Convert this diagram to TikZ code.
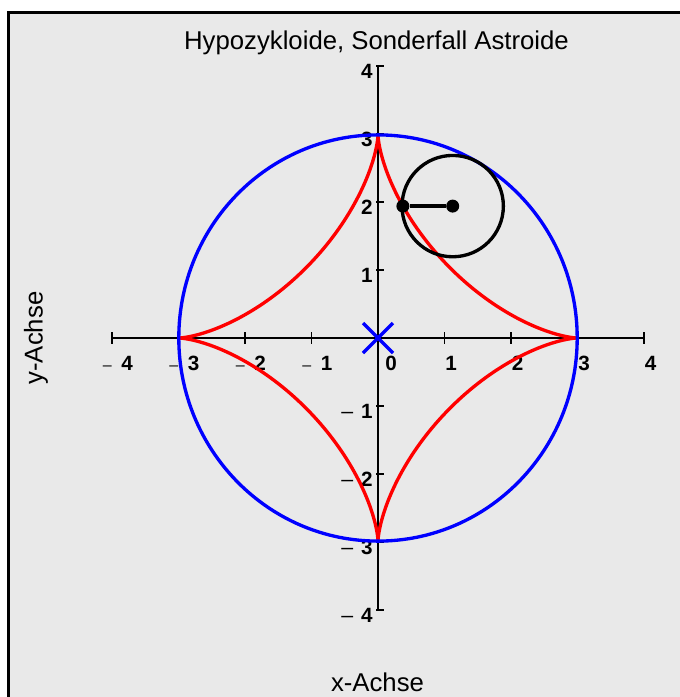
\documentclass[tikz,border=0pt]{standalone}
\usepackage{fontspec}
\usetikzlibrary{shapes.geometric}
\setmainfont{Liberation Sans}
\definecolor{panel}{RGB}{233,233,233}
\begin{document}
\begin{tikzpicture}[x=0.75pt,y=-0.75pt,
  axisline/.style={line width=1.5pt,black},
  tickline/.style={line width=1.3pt,black},
  ticklbl/.style={font=\fontsize{15.5}{17}\selectfont\bfseries,inner sep=0pt},
  captxt/.style={font=\fontsize{19.3}{21}\selectfont,inner sep=0pt},
  curve/.style={line width=2.5pt},
  dotnode/.style={circle,fill=black,inner sep=0pt,minimum size=9.75pt}]
\useasboundingbox (0,0) rectangle (680,697);
\fill[white] (0,0) rectangle (680,697);
\fill[panel] (8.7,12) rectangle (681,698);
\draw[line width=2.25pt] (8.7,698) -- (8.7,12) -- (681,12);
% titles
\node[captxt,anchor=base] (title) at (376.5,49) {Hypozykloide, Sonderfall Astroide};
\node[captxt,anchor=base] (xlab) at (377.5,691) {x-Achse};
\node[captxt,rotate=90] (ylab) at (36,338) {y-Achse};
% axes
\coordinate (xa) at (112,338); \coordinate (xb) at (644,338);
\coordinate (ya) at (378,66); \coordinate (yb) at (378,610);
\draw[axisline] (xa) -- (xb);
\draw[axisline] (ya) -- (yb);
\foreach \k in {-4,-3,-2,-1,1,2,3,4}{
  \draw[tickline] ({378+66.5*\k},332) -- ({378+66.5*\k},344);
  \draw[tickline] (376,{338-68*\k}) -- (384,{338-68*\k});
}
% tick labels
\foreach \k in {1,2,3,4}{
  \node[ticklbl,anchor=base west] (xl\k) at ({378+66.5*\k+0.5},370) {\k};
  \node[ticklbl,anchor=base west] (xm\k) at ({378-66.5*\k-9.5},370) {{\mdseries\fontsize{12}{13}\selectfont –}\hspace{7.2pt}\k};
  \node[ticklbl,anchor=base east] (yl\k) at (373,{338-68*\k+12}) {\k};
  \node[ticklbl,anchor=base east] (ym\k) at (373,{338+68*\k+12}) {{\mdseries\fontsize{16}{17}\selectfont –}\hspace{6pt}\k};
}
\node[ticklbl,anchor=base west] (x0) at (385,370) {0};
% astroid
\draw[red,curve,line join=miter,miter limit=50] plot[domain=0:360,samples=721,variable=\t]
  ({378+199.2*cos(\t)*cos(\t)*cos(\t)},{338-203.1*sin(\t)*sin(\t)*sin(\t)}) -- cycle;
% fixed circle
\node[draw=blue,curve,ellipse,inner sep=0pt,minimum width=298.8pt,minimum height=304.65pt] (big) at (378,338) {};
% rolling circle
\node[draw=black,curve,circle,inner sep=0pt,minimum size=76pt] (roll) at (452.7,206.1) {};
\node[dotnode] (p) at (402.9,206.1) {};
\node[dotnode] (c) at (452.7,206.1) {};
\draw[curve] (p) -- (c);
% origin cross
\coordinate (o) at (378,338);
\draw[blue,line width=2.6pt] ([shift={(-15,-15)}]o) -- ([shift={(15,15)}]o);
\draw[blue,line width=2.6pt] ([shift={(-15,15)}]o) -- ([shift={(15,-15)}]o);
\end{tikzpicture}
\end{document}
